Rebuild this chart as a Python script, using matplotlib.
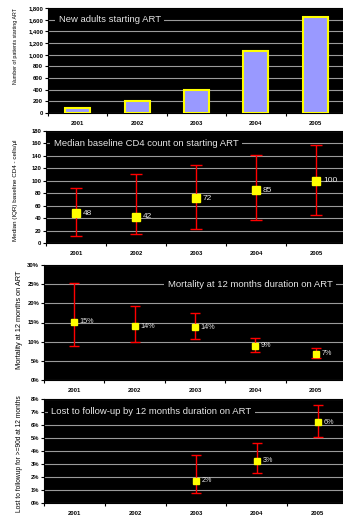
import matplotlib
matplotlib.use("Agg")
import matplotlib.pyplot as plt
from matplotlib.ticker import FuncFormatter, MultipleLocator, FixedLocator

plt.rcParams['font.family'] = ['Liberation Sans', 'DejaVu Sans']

years = ["2001", "2002", "2003", "2004", "2005"]

# Panel 1: new adults starting ART
new_adults = [86, 213, 390, 1058, 1645]

# Panel 2: median (IQR) baseline CD4
cd4_median = [48, 42, 72, 85, 100]
cd4_q1 = [12, 15, 22, 37, 45]
cd4_q3 = [88, 111, 125, 141, 158]
cd4_labels = ["48", "42", "72", "85", "100"]

# Panel 3: mortality at 12 months (%)
mort = [15.2, 14.0, 13.7, 9.0, 6.9]
mort_lo = [9.0, 9.8, 10.7, 7.4, 5.7]
mort_hi = [25.2, 19.4, 17.6, 11.0, 8.3]
mort_labels = ["15%", "14%", "14%", "9%", "7%"]

# Panel 4: lost to follow-up (%), only 2003-2005
ltfu_years = ["2003", "2004", "2005"]
ltfu = [1.7, 3.25, 6.2]
ltfu_lo = [0.75, 2.3, 5.1]
ltfu_hi = [3.7, 4.6, 7.55]
ltfu_labels = ["2%", "3%", "6%"]

W, H = 343, 515
fig = plt.figure(figsize=(W / 100, H / 100), dpi=100)
fig.patch.set_facecolor('white')

GRID = '#9a9a9a'
TXT = '#e6e6e6'
RED = '#ff0000'
YEL = '#ffff00'


def mkax(left, top, right, bottom):
    ax = fig.add_axes([left / W, 1 - bottom / H, (right - left) / W, (bottom - top) / H])
    ax.set_facecolor('black')
    for s in ax.spines.values():
        s.set_color('black')
        s.set_linewidth(0.8)
    ax.set_xlim(-0.5, 4.5)
    ax.set_xticks(range(5))
    ax.set_xticklabels(years, fontsize=4.2, fontweight='bold')
    ax.xaxis.set_minor_locator(FixedLocator([-0.5, 0.5, 1.5, 2.5, 3.5]))
    ax.tick_params(axis='x', which='major', length=0, pad=6)
    ax.tick_params(axis='x', which='minor', length=2.5, width=0.8, direction='out')
    ax.tick_params(axis='y', length=2, width=0.8, direction='out', labelsize=4.2, pad=1.5)
    ax.grid(axis='y', color=GRID, linewidth=0.8)
    ax.set_axisbelow(True)
    return ax


def bold_y(ax):
    for lab in ax.get_yticklabels():
        lab.set_fontweight('bold')


def title(ax, x, y, s):
    ax.text(x, y, s, color=TXT, fontsize=6.8, va='center', ha='left',
            bbox=dict(facecolor='black', edgecolor='none', pad=2.5), zorder=5)


# ---------- Panel 1 ----------
ax1 = mkax(48, 8, 345, 113)
ax1.bar(range(5), new_adults, width=0.42, color='#9999ff', edgecolor=YEL, linewidth=1.5, zorder=3)
ax1.set_ylim(0, 1800)
ax1.yaxis.set_major_locator(MultipleLocator(200))
ax1.yaxis.set_major_formatter(FuncFormatter(lambda v, p: f"{int(v):,}"))
bold_y(ax1)
title(ax1, -0.32, 1600, "New adults starting ART")
fig.text(16 / W, 1 - 46 / H, "Number of patients starting ART", rotation=90,
         fontsize=3.8, ha='center', va='center')

# ---------- Panel 2 ----------
ax2 = mkax(46, 131, 346, 243)
x = list(range(5))
yerr = [[m - l for m, l in zip(cd4_median, cd4_q1)], [h - m for m, h in zip(cd4_median, cd4_q3)]]
ax2.errorbar(x, cd4_median, yerr=yerr, fmt='none', ecolor=RED, elinewidth=1.0, capsize=4, capthick=1.0, zorder=3)
ax2.plot(x, cd4_median, 's', color=YEL, markersize=6, zorder=4)
for xi, yi, lab in zip(x, cd4_median, cd4_labels):
    ax2.annotate(lab, (xi, yi), xytext=(5, 0), textcoords='offset points', color=TXT,
                 fontsize=6.0, va='center', ha='left', zorder=5)
ax2.set_ylim(0, 180)
ax2.yaxis.set_major_locator(MultipleLocator(20))
bold_y(ax2)
title(ax2, -0.37, 160, "Median baseline CD4 count on starting ART")
fig.text(16 / W, 1 - 190 / H, "Median (IQR) baseline CD4 - cells/µl", rotation=90,
         fontsize=4.5, ha='center', va='center')

# ---------- Panel 3 ----------
ax3 = mkax(44, 265, 346, 380)
yerr = [[m - l for m, l in zip(mort, mort_lo)], [h - m for m, h in zip(mort, mort_hi)]]
ax3.errorbar(x, mort, yerr=yerr, fmt='none', ecolor=RED, elinewidth=1.0, capsize=3.5, capthick=1.0, zorder=3)
ax3.plot(x, mort, 's', color=YEL, markersize=3.8, zorder=4)
for xi, yi, lab in zip(x, mort, mort_labels):
    ax3.annotate(lab, (xi, yi), xytext=(4, 0), textcoords='offset points', color=TXT,
                 fontsize=5.2, va='center', ha='left', zorder=5)
ax3.set_ylim(0, 30)
ax3.yaxis.set_major_locator(MultipleLocator(5))
ax3.yaxis.set_major_formatter(FuncFormatter(lambda v, p: f"{int(v)}%"))
bold_y(ax3)
title(ax3, 1.55, 25, "Mortality at 12 months duration on ART")
fig.text(20 / W, 1 - 320 / H, "Mortality at 12 months on ART", rotation=90,
         fontsize=5.3, ha='center', va='center')

# ---------- Panel 4 ----------
ax4 = mkax(44, 399, 348, 503)
x4 = [years.index(y) for y in ltfu_years]
yerr = [[m - l for m, l in zip(ltfu, ltfu_lo)], [h - m for m, h in zip(ltfu, ltfu_hi)]]
ax4.errorbar(x4, ltfu, yerr=yerr, fmt='none', ecolor=RED, elinewidth=1.0, capsize=3.5, capthick=1.0, zorder=3)
ax4.plot(x4, ltfu, 's', color=YEL, markersize=3.8, zorder=4)
for xi, yi, lab in zip(x4, ltfu, ltfu_labels):
    ax4.annotate(lab, (xi, yi), xytext=(4, 0), textcoords='offset points', color=TXT,
                 fontsize=5.2, va='center', ha='left', zorder=5)
ax4.set_ylim(0, 8)
ax4.yaxis.set_major_locator(MultipleLocator(1))
ax4.yaxis.set_major_formatter(FuncFormatter(lambda v, p: f"{int(v)}%"))
bold_y(ax4)
title(ax4, -0.38, 7, "Lost to follow-up by 12 months duration on ART")
fig.text(20 / W, 1 - 454 / H, "Lost to followup for >=90d at 12 months", rotation=90,
         fontsize=4.8, ha='center', va='center')

fig.savefig("out.png", dpi=100, facecolor='white')
